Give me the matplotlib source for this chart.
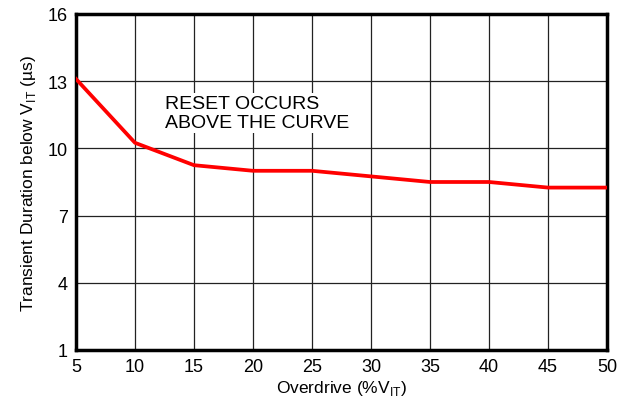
import matplotlib
matplotlib.use('Agg')
import matplotlib.pyplot as plt

overdrive = [5, 10, 15, 20, 25, 30, 35, 40, 45, 50]
duration = [13.1, 10.25, 9.25, 9.0, 9.0, 8.75, 8.5, 8.5, 8.25, 8.25]
xticks = [5, 10, 15, 20, 25, 30, 35, 40, 45, 50]
yticks = [1, 4, 7, 10, 13, 16]

plt.rcParams['font.family'] = ['Liberation Sans', 'DejaVu Sans']
plt.rcParams['mathtext.fontset'] = 'custom'
plt.rcParams['mathtext.rm'] = 'Liberation Sans'

fig = plt.figure(figsize=(6.3, 4.02), dpi=100)
ax = fig.add_axes([0.1206, 0.1269, 0.8429, 0.8358])

ax.plot(overdrive, duration, color='#ff0000', linewidth=2.7, zorder=3)

ax.set_xlim(5, 50)
ax.set_ylim(1, 16)
ax.set_xticks(xticks)
ax.set_yticks(yticks)
ax.grid(True, color='#222222', linewidth=0.9)
ax.tick_params(length=0, labelsize=13, pad=6)
for s in ax.spines.values():
    s.set_linewidth(2.5)
    s.set_color('black')

ax.text(12.55, 12.4, 'RESET OCCURS\nABOVE THE CURVE', fontsize=14,
        va='top', ha='left', linespacing=1.2,
        bbox=dict(facecolor='white', edgecolor='none', pad=1))

ax.set_xlabel('Overdrive (%V$_{\\mathregular{IT}}$)', fontsize=12.5, labelpad=2)
ax.set_ylabel('Transient Duration below V$_{\\mathregular{IT}}$ (µs)', fontsize=12.5, labelpad=7)

fig.savefig('out.png', dpi=100)
